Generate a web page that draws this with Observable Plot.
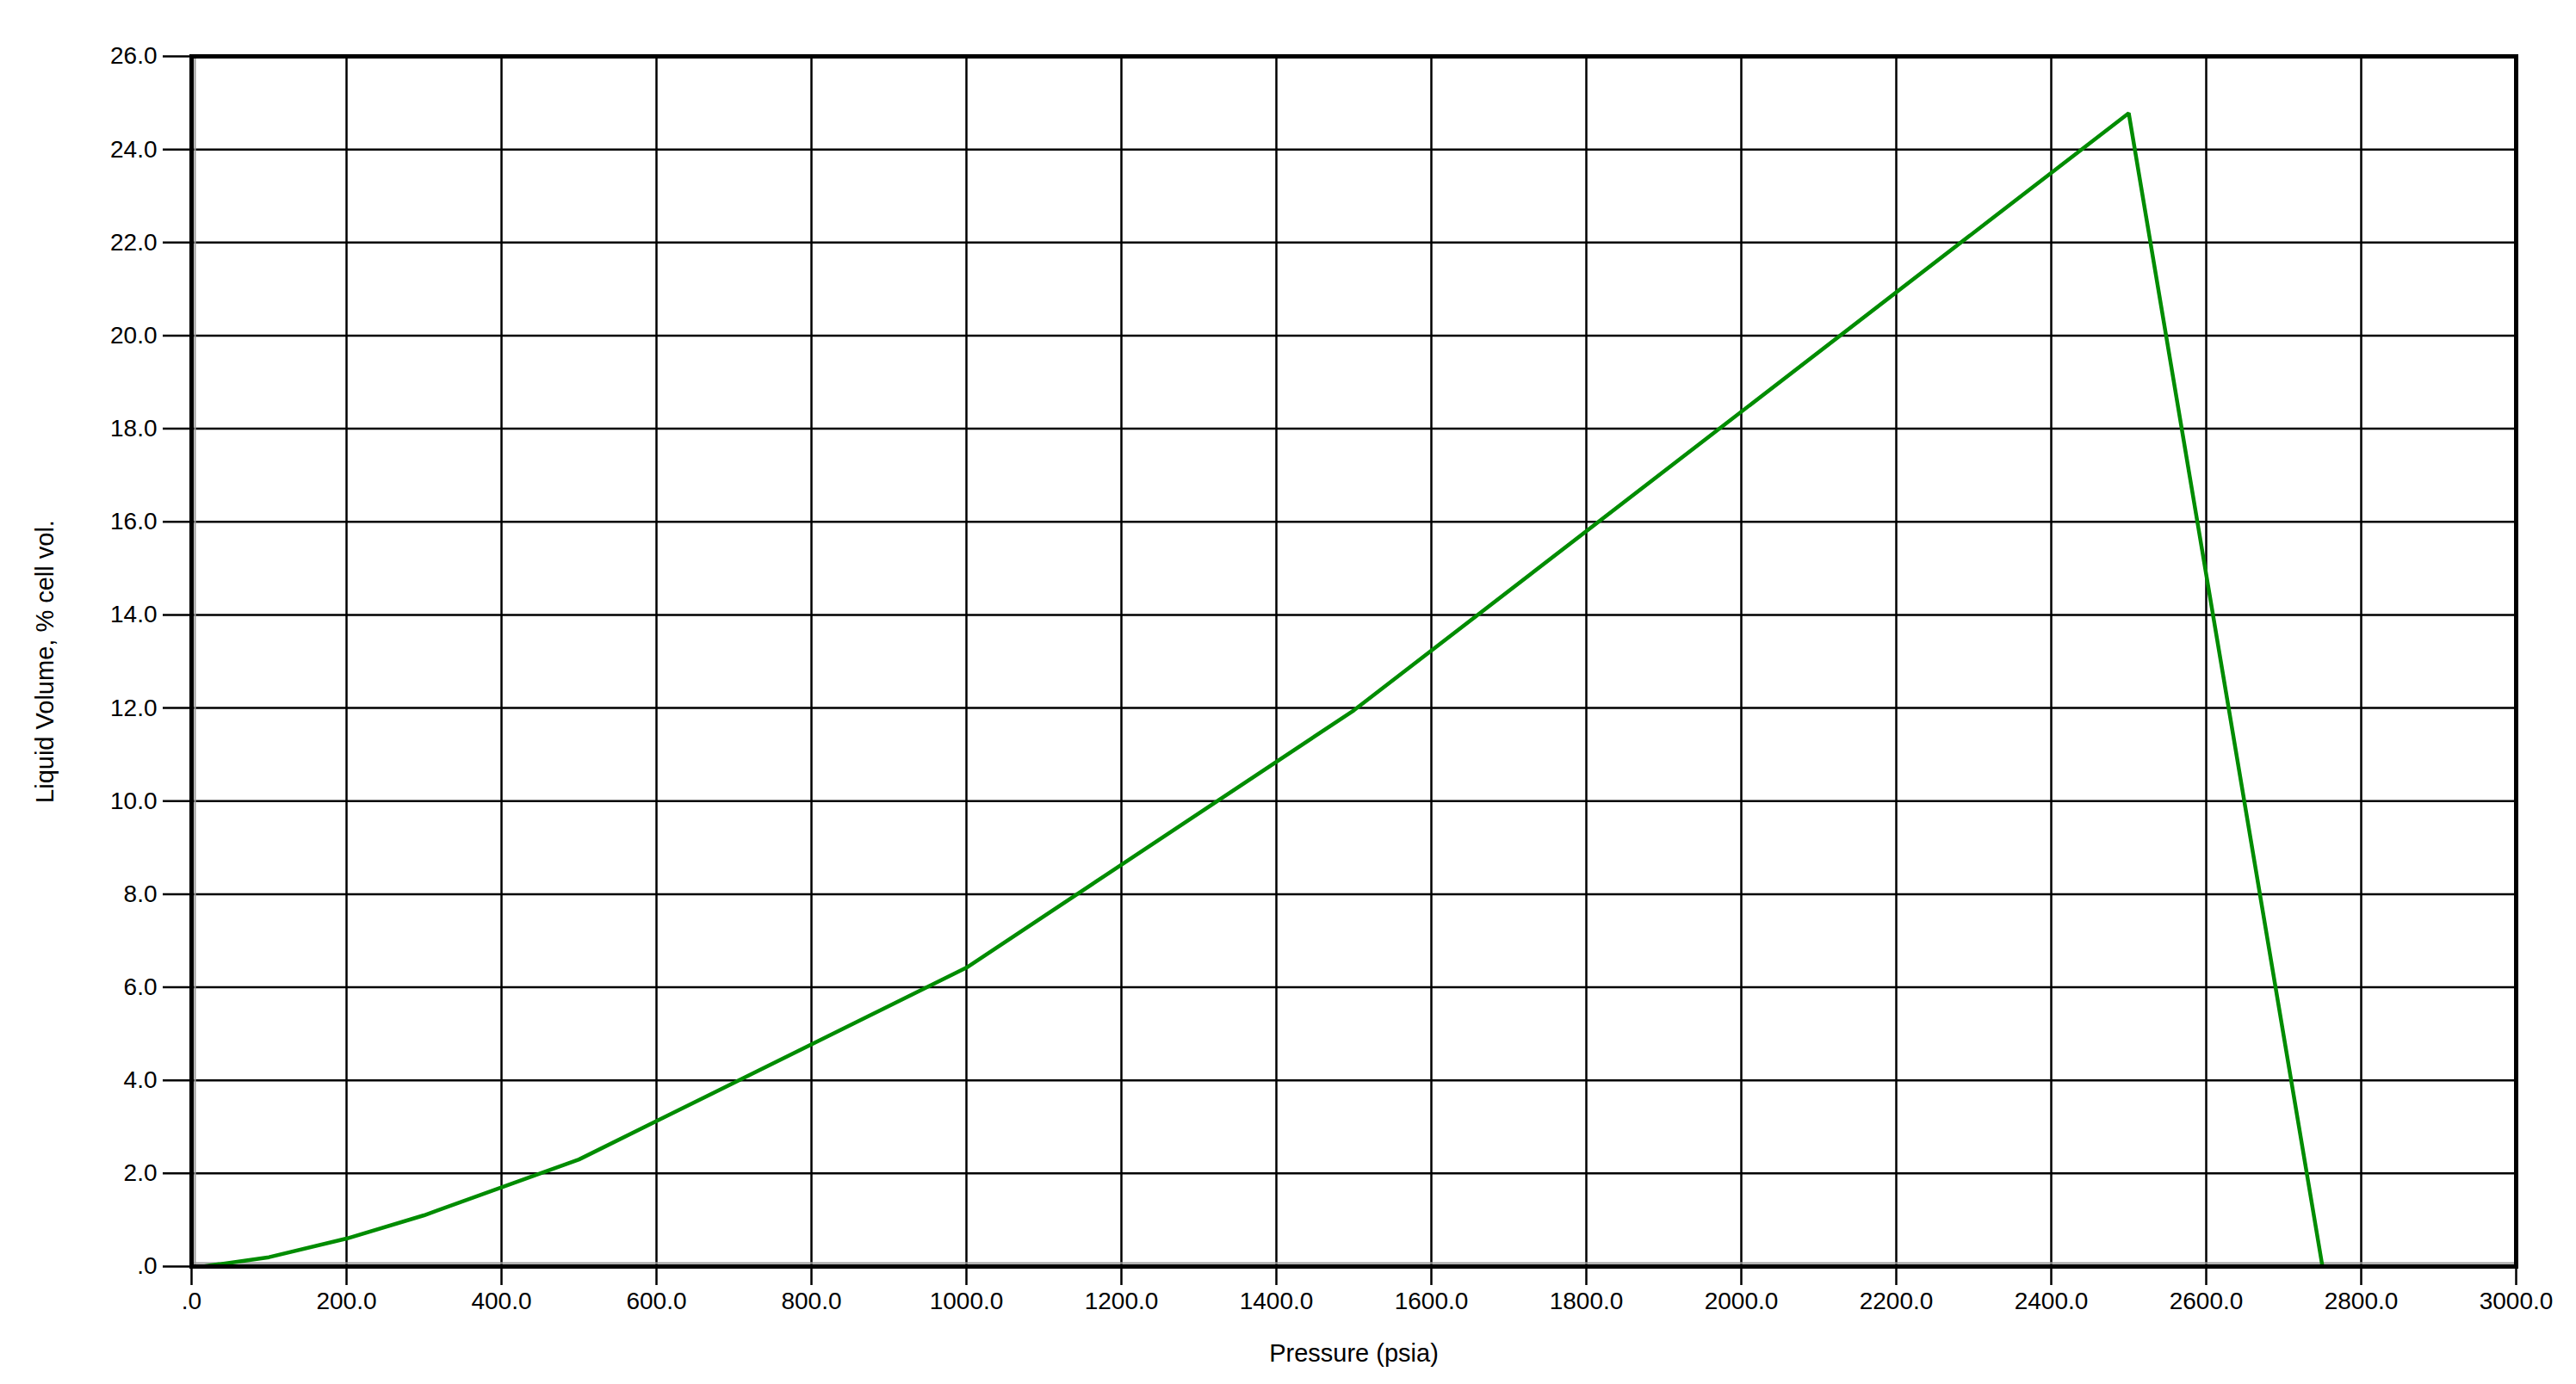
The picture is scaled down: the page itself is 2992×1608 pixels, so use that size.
<!DOCTYPE html>
<html>
<head>
<meta charset="utf-8">
<script src="https://cdn.jsdelivr.net/npm/d3@7"></script>
<script src="https://cdn.jsdelivr.net/npm/@observablehq/plot@0.6"></script>
<style>
  html, body { margin: 0; padding: 0; background: white; }
  #chart svg { display: block; }
</style>
</head>
<body>
<div id="chart"></div>
<script>
// Data
const pressure = [14.7, 100, 200, 300, 500, 1000, 1500, 2500, 2750, 3000];
const liquidVolume = [0, 0.2, 0.6, 1.1, 2.3, 6.42, 11.95, 24.78, 0, 0];

const xTicks = [0, 200, 400, 600, 800, 1000, 1200, 1400, 1600, 1800, 2000, 2200, 2400, 2600, 2800, 3000];
const yTicks = [0, 2, 4, 6, 8, 10, 12, 14, 16, 18, 20, 22, 24, 26];
const xTitle = "Pressure (psia)";
const yTitle = "Liquid Volume, % cell vol.";

const data = pressure.map((p, i) => ({p, v: liquidVolume[i]}));
const fmt = d => d === 0 ? ".0" : d.toFixed(1);

const chart = Plot.plot({
  width: 2992,
  height: 1608,
  marginLeft: 222,
  marginRight: 70,
  marginTop: 65,
  marginBottom: 137,
  style: {fontFamily: "'Liberation Sans', Arial, sans-serif", fontSize: "28px", color: "black", background: "white"},
  x: {domain: [0, 3000]},
  y: {domain: [0, 26]},
  marks: [
    Plot.gridX(xTicks, {stroke: "black", strokeOpacity: 1, strokeWidth: 2.5}),
    Plot.gridY(yTicks, {stroke: "black", strokeOpacity: 1, strokeWidth: 2.5}),
    Plot.ruleX([0], {stroke: "#9a9a9a", strokeWidth: 2, dx: 4}),
    Plot.ruleY([0], {stroke: "#9a9a9a", strokeWidth: 2, dy: -4}),
    Plot.line(data, {x: "p", y: "v", stroke: "#008c00", strokeWidth: 4.5, strokeLinejoin: "miter"}),
    Plot.frame({stroke: "black", strokeWidth: 5}),
    Plot.axisX({ticks: xTicks, tickFormat: fmt, tickSize: 22, tickPadding: 8, strokeWidth: 2.5, label: null, fill: "black"}),
    Plot.axisY({ticks: yTicks, tickFormat: fmt, tickSize: 33, tickPadding: 7, strokeWidth: 2.5, label: null, fill: "black"}),
    Plot.text([xTitle], {frameAnchor: "bottom", dy: 101, fontSize: 29, fill: "black", textAnchor: "middle", lineAnchor: "middle"}),
    Plot.text([yTitle], {frameAnchor: "left", dx: -170, rotate: -90, fontSize: 29, fill: "black", textAnchor: "middle", lineAnchor: "middle"})
  ]
});
document.getElementById("chart").appendChild(chart);
</script>
</body>
</html>
